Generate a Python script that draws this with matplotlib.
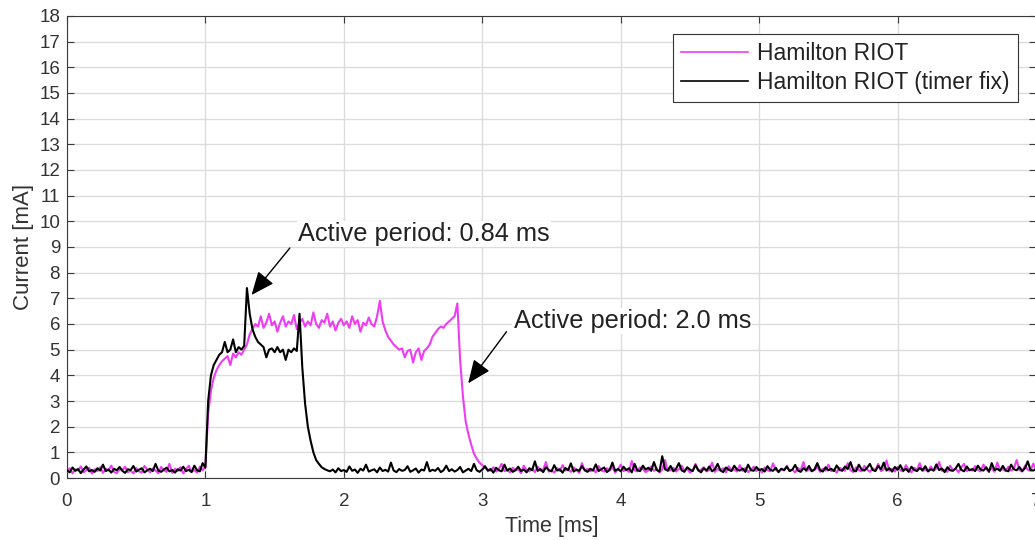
import numpy as np
import matplotlib
matplotlib.use("Agg")
import matplotlib.pyplot as plt

plt.rcParams['font.family'] = ['Liberation Sans', 'DejaVu Sans']

# time axis [ms], 0.02 ms sampling
time_ms = np.round(np.arange(0, 351) * 0.02, 3)

# Hamilton RIOT (original) current [mA]
riot = [
    0.25, 0.38, 0.18, 0.33, 0.29, 0.45, 0.22, 0.31, 0.40, 0.17,
    0.34, 0.27, 0.42, 0.20, 0.36, 0.30, 0.48, 0.24, 0.19, 0.35,
    0.31, 0.44, 0.23, 0.28, 0.18, 0.39, 0.26, 0.21, 0.47, 0.33,
    0.22, 0.37, 0.29, 0.19, 0.43, 0.30, 0.24, 0.55, 0.20, 0.36,
    0.27, 0.42, 0.18, 0.35, 0.48, 0.24, 0.31, 0.21, 0.44, 0.30,
    0.45, 2.50, 3.40, 3.90, 4.20, 4.40, 4.55, 4.65, 4.75, 4.40,
    4.85, 4.70, 4.90, 4.80, 5.00, 5.20, 5.60, 5.80, 6.00, 5.90,
    6.30, 5.85, 6.05, 6.40, 5.95, 6.10, 5.70, 6.05, 6.30, 5.90,
    6.10, 6.00, 6.35, 5.80, 6.05, 6.20, 5.90, 6.10, 5.95, 6.45,
    6.00, 5.85, 6.15, 6.05, 6.40, 5.90, 6.10, 5.75, 6.05, 6.20,
    5.95, 6.10, 5.85, 6.30, 6.00, 6.15, 5.70, 6.05, 5.95, 6.25,
    6.00, 5.90, 6.30, 6.90, 6.10, 5.75, 5.50, 5.35, 5.20, 5.10,
    5.00, 5.05, 4.70, 4.95, 5.00, 4.50, 4.90, 5.05, 4.60, 4.95,
    5.05, 5.20, 5.50, 5.65, 5.80, 5.90, 5.85, 6.00, 6.10, 6.20,
    6.30, 6.80, 4.60, 3.20, 2.20, 1.70, 1.30, 0.95, 0.75, 0.60,
    0.50, 0.40, 0.33, 0.28, 0.42, 0.25, 0.35, 0.55, 0.27, 0.31,
    0.22, 0.40, 0.29, 0.34, 0.19, 0.48, 0.30, 0.26, 0.37, 0.23,
    0.44, 0.28, 0.33, 0.62, 0.25, 0.30, 0.21, 0.39, 0.27, 0.50,
    0.29, 0.35, 0.24, 0.41, 0.31, 0.20, 0.58, 0.28, 0.36, 0.26,
    0.33, 0.22, 0.47, 0.30, 0.25, 0.38, 0.29, 0.43, 0.21, 0.34,
    0.52, 0.27, 0.32, 0.24, 0.66, 0.30, 0.26, 0.41, 0.35, 0.23,
    0.30, 0.45, 0.28, 0.37, 0.22, 0.33, 0.70, 0.27, 0.31, 0.40,
    0.25, 0.34, 0.48, 0.29, 0.36, 0.21, 0.30, 0.55, 0.28, 0.33,
    0.42, 0.26, 0.31, 0.60, 0.24, 0.35, 0.29, 0.38, 0.22, 0.46,
    0.30, 0.33, 0.25, 0.50, 0.28, 0.39, 0.23, 0.31, 0.44, 0.27,
    0.36, 0.21, 0.41, 0.30, 0.26, 0.57, 0.32, 0.24, 0.35, 0.29,
    0.48, 0.27, 0.33, 0.22, 0.39, 0.30, 0.62, 0.26, 0.34, 0.28,
    0.31, 0.44, 0.24, 0.36, 0.29, 0.52, 0.27, 0.33, 0.21, 0.40,
    0.35, 0.28, 0.58, 0.30, 0.23, 0.42, 0.31, 0.26, 0.47, 0.33,
    0.24, 0.38, 0.30, 0.55, 0.27, 0.34, 0.68, 0.29, 0.36, 0.25,
    0.43, 0.30, 0.26, 0.50, 0.33, 0.22, 0.40, 0.31, 0.58, 0.27,
    0.34, 0.25, 0.45, 0.29, 0.37, 0.62, 0.28, 0.32, 0.24, 0.48,
    0.30, 0.36, 0.23, 0.41, 0.55, 0.27, 0.33, 0.29, 0.46, 0.31,
    0.26, 0.52, 0.34, 0.28, 0.39, 0.24, 0.60, 0.30, 0.35, 0.27,
    0.44, 0.29, 0.37, 0.70, 0.31, 0.25, 0.48, 0.33, 0.28, 0.56,
    0.32,
]

# Hamilton RIOT (timer fix) current [mA]
riot_fix = [
    0.30, 0.22, 0.41, 0.28, 0.35, 0.19, 0.33, 0.45, 0.26, 0.31,
    0.24, 0.38, 0.29, 0.52, 0.27, 0.33, 0.21, 0.36, 0.30, 0.43,
    0.28, 0.20, 0.34, 0.31, 0.47, 0.25, 0.32, 0.38, 0.22, 0.30,
    0.36, 0.27, 0.55, 0.29, 0.24, 0.33, 0.40, 0.26, 0.31, 0.21,
    0.34, 0.29, 0.44, 0.27, 0.32, 0.23, 0.48, 0.30, 0.26, 0.58,
    0.40, 3.00, 4.00, 4.40, 4.60, 4.80, 4.90, 5.30, 4.90, 5.00,
    5.40, 4.90, 5.10, 5.00, 5.15, 7.40, 6.40, 5.80, 5.50, 5.30,
    5.20, 5.10, 4.70, 5.00, 5.05, 4.90, 5.10, 4.90, 5.00, 4.60,
    5.00, 4.90, 5.05, 4.95, 6.40, 4.30, 2.90, 2.00, 1.45, 1.00,
    0.70, 0.55, 0.42, 0.35, 0.30, 0.26, 0.33, 0.22, 0.38, 0.27,
    0.31, 0.24, 0.45, 0.28, 0.33, 0.20, 0.36, 0.29, 0.52, 0.25,
    0.30, 0.34, 0.22, 0.41, 0.27, 0.32, 0.25, 0.60, 0.29, 0.23,
    0.35, 0.28, 0.31, 0.46, 0.24, 0.30, 0.37, 0.21, 0.33, 0.29,
    0.62, 0.26, 0.32, 0.28, 0.39, 0.23, 0.30, 0.48, 0.27, 0.34,
    0.25, 0.31, 0.43, 0.22, 0.29, 0.36, 0.27, 0.55, 0.30, 0.24,
    0.33, 0.46, 0.28, 0.35, 0.21, 0.40, 0.30, 0.26, 0.52, 0.29,
    0.37, 0.24, 0.31, 0.44, 0.27, 0.33, 0.22, 0.38, 0.30, 0.65,
    0.28, 0.35, 0.23, 0.42, 0.31, 0.26, 0.50, 0.29, 0.34, 0.21,
    0.39, 0.30, 0.57, 0.25, 0.33, 0.28, 0.46, 0.31, 0.24, 0.36,
    0.29, 0.53, 0.27, 0.34, 0.41, 0.23, 0.32, 0.60, 0.28, 0.35,
    0.26, 0.44, 0.31, 0.38, 0.22, 0.55, 0.30, 0.27, 0.48, 0.33,
    0.40, 0.28, 0.62, 0.31, 0.25, 0.85, 0.34, 0.29, 0.47, 0.26,
    0.36, 0.58, 0.30, 0.24, 0.42, 0.33, 0.27, 0.50, 0.31, 0.22,
    0.38, 0.29, 0.45, 0.26, 0.34, 0.55, 0.30, 0.23, 0.41, 0.32,
    0.27, 0.48, 0.33, 0.29, 0.37, 0.24, 0.52, 0.31, 0.28, 0.43,
    0.30, 0.35, 0.25, 0.46, 0.32, 0.28, 0.40, 0.23, 0.36, 0.31,
    0.44, 0.27, 0.33, 0.51, 0.29, 0.24, 0.38, 0.30, 0.47, 0.26,
    0.34, 0.58, 0.31, 0.25, 0.42, 0.30, 0.36, 0.27, 0.49, 0.32,
    0.28, 0.45, 0.35, 0.62, 0.30, 0.26, 0.52, 0.33, 0.29, 0.40,
    0.55, 0.31, 0.27, 0.47, 0.34, 0.60, 0.29, 0.38, 0.25, 0.43,
    0.32, 0.50, 0.28, 0.36, 0.24, 0.44, 0.31, 0.27, 0.39, 0.30,
    0.46, 0.26, 0.34, 0.29, 0.53, 0.31, 0.37, 0.23, 0.42, 0.30,
    0.28, 0.38, 0.55, 0.32, 0.26, 0.45, 0.30, 0.35, 0.27, 0.48,
    0.33, 0.29, 0.42, 0.24, 0.58, 0.31, 0.36, 0.28, 0.47, 0.30,
    0.26, 0.52, 0.34, 0.30, 0.43, 0.27, 0.38, 0.65, 0.31, 0.29,
    0.35,
]

series_labels = ["Hamilton RIOT", "Hamilton RIOT (timer fix)"]
annot_texts = ["Active period: 0.84 ms", "Active period: 2.0 ms"]

fig = plt.figure(figsize=(10.35, 5.4), dpi=100)
ax = fig.add_axes([0.0647, 0.1148, 0.9363, 0.8556])

magenta = '#ee3cf4'
ax.plot(time_ms, riot, color=magenta, lw=1.5, label=series_labels[0], zorder=3)
ax.plot(time_ms, riot_fix, color='black', lw=1.5, label=series_labels[1], zorder=4)

ax.set_xlim(0, 7)
ax.set_ylim(0, 18)
ax.set_xticks(range(0, 8))
ax.set_yticks(range(0, 19))
ax.grid(True, color='#dcdcdc', lw=1.0)
ax.set_axisbelow(True)
for s in ax.spines.values():
    s.set_color('#3a3a3a')
    s.set_linewidth(0.8)
ax.tick_params(direction='in', top=True, right=True, length=5,
               labelsize=13.5, colors='#3a3a3a', labelcolor='#333333')
ax.tick_params(axis='y', pad=5)
ax.tick_params(axis='x', pad=11)
ax.set_xlabel('Time [ms]', fontsize=15.5, color='#333333', labelpad=4)
ax.set_ylabel('Current [mA]', fontsize=16, color='#333333', labelpad=4)

arrowprops = dict(arrowstyle='-|>,head_length=0.9,head_width=0.38', color='black',
                  lw=1.0, shrinkA=0, shrinkB=0, mutation_scale=16)
ax.annotate('', xy=(1.333, 7.13), xytext=(1.61, 8.96),
            arrowprops=arrowprops, zorder=6)
ax.text(1.668, 9.5, annot_texts[0], fontsize=18.3, ha='left', va='center', color='#222222',
        bbox=dict(facecolor='white', edgecolor='none', pad=1), zorder=7)
ax.annotate('', xy=(2.898, 3.69), xytext=(3.175, 5.70),
            arrowprops=arrowprops, zorder=6)
ax.text(3.227, 6.12, annot_texts[1], fontsize=18.3, ha='left', va='center', color='#222222',
        bbox=dict(facecolor='white', edgecolor='none', pad=1), zorder=7)

leg = ax.legend(loc='upper right', bbox_to_anchor=(0.981, 0.962), borderaxespad=0,
                fontsize=16.5, frameon=True, fancybox=False, handlelength=2.9,
                edgecolor='#333333', framealpha=1, borderpad=0.35, labelspacing=0.3,
                handletextpad=0.4)
leg.get_frame().set_linewidth(0.8)
for t in leg.get_texts():
    t.set_color('#222222')
for h in leg.get_lines():
    h.set_linewidth(1.2)

fig.savefig('out.png', dpi=100)
